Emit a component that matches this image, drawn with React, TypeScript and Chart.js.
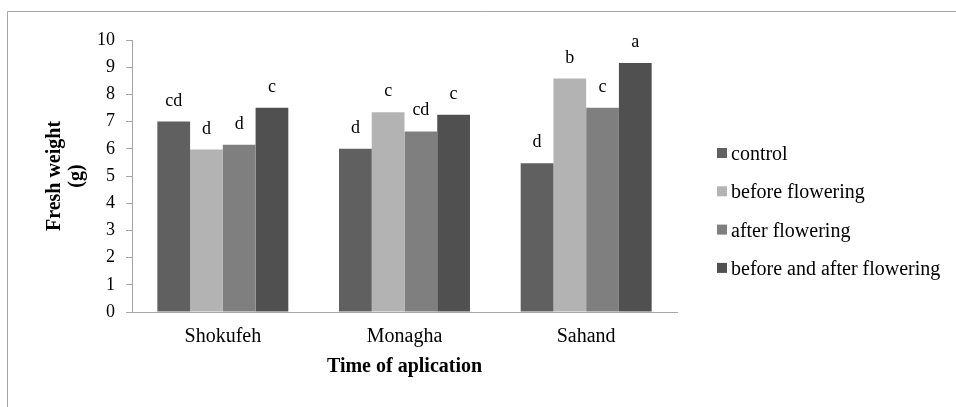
import React, { useEffect, useRef } from "react";
import { Chart, registerables } from "chart.js";

Chart.register(...registerables);

const categories = ["Shokufeh", "Monagha", "Sahand"];
const seriesNames = ["control", "before flowering", "after flowering", "before and after flowering"];
const controlValues = [7.0, 6.0, 5.47];
const beforeValues = [5.97, 7.34, 8.58];
const afterValues = [6.15, 6.64, 7.51];
const bothValues = [7.51, 7.25, 9.15];
const controlLetters = ["cd", "d", "d"];
const beforeLetters = ["d", "c", "b"];
const afterLetters = ["d", "cd", "c"];
const bothLetters = ["c", "c", "a"];
const yTicks = [0, 1, 2, 3, 4, 5, 6, 7, 8, 9, 10];
const colors = ["#606060", "#b3b3b3", "#7f7f7f", "#505050"];

const SERIF = '"Liberation Serif", "Times New Roman", serif';

export default function App() {
  const ref = useRef<HTMLCanvasElement | null>(null);

  useEffect(() => {
    const canvas = ref.current;
    if (!canvas) return;
    const values = [controlValues, beforeValues, afterValues, bothValues];
    const letters = [controlLetters, beforeLetters, afterLetters, bothLetters];

    const framePlugin = {
      id: "frame",
      beforeDraw(chart: any) {
        const ctx = chart.ctx;
        ctx.save();
        ctx.strokeStyle = "#a6a6a6";
        ctx.lineWidth = 1;
        ctx.beginPath();
        ctx.moveTo(7.5, chart.height);
        ctx.lineTo(7.5, 11.5);
        ctx.lineTo(chart.width, 11.5);
        ctx.stroke();
        ctx.restore();
      },
    };

    const lettersPlugin = {
      id: "letters",
      afterDatasetsDraw(chart: any) {
        const ctx = chart.ctx;
        ctx.save();
        ctx.font = `18px ${SERIF}`;
        ctx.fillStyle = "#000";
        ctx.textAlign = "center";
        ctx.textBaseline = "alphabetic";
        chart.data.datasets.forEach((ds: any, di: number) => {
          const meta = chart.getDatasetMeta(di);
          meta.data.forEach((bar: any, i: number) => {
            ctx.fillText(letters[di][i], bar.x, bar.y - 16);
          });
        });
        ctx.restore();
      },
    };

    const legendPlugin = {
      id: "customLegend",
      afterDraw(chart: any) {
        const ctx = chart.ctx;
        ctx.save();
        ctx.font = `20px ${SERIF}`;
        ctx.textAlign = "left";
        ctx.textBaseline = "alphabetic";
        chart.data.datasets.forEach((ds: any, di: number) => {
          const cy = 153 + di * 38.3;
          ctx.fillStyle = ds.backgroundColor;
          ctx.fillRect(717, cy - 5, 10, 10);
          ctx.fillStyle = "#000";
          ctx.fillText(ds.label, 731, cy + 7);
        });
        ctx.restore();
      },
    };

    const chart = new Chart(canvas, {
      type: "bar",
      data: {
        labels: categories,
        datasets: seriesNames.map((name, i) => ({
          label: name,
          data: values[i],
          backgroundColor: colors[i],
          borderWidth: 0,
          categoryPercentage: 0.721,
          barPercentage: 1,
        })),
      },
      options: {
        responsive: false,
        animation: false,
        layout: { padding: { left: 0, top: 40, right: 279, bottom: 0 } },
        plugins: {
          legend: { display: false },
          tooltip: { enabled: false },
        },
        scales: {
          x: {
            grid: { display: false, drawTicks: false },
            border: { display: true, color: "#a6a6a6", width: 1 },
            ticks: { font: { family: SERIF, size: 20 }, color: "#000", padding: 13 },
            title: {
              display: true,
              text: "Time of aplication",
              font: { family: SERIF, size: 20, weight: "bold", lineHeight: 1.1 },
              color: "#000",
              padding: { top: 0, bottom: 29 },
            },
            afterFit: (scale: any) => {
              scale.height = 95;
            },
          },
          y: {
            min: 0,
            max: 10,
            afterBuildTicks: (scale: any) => {
              scale.ticks = yTicks.map((v) => ({ value: v }));
            },
            grid: { display: true, drawOnChartArea: false, drawTicks: true, tickLength: 6, color: "#a6a6a6" },
            border: { display: true, color: "#a6a6a6", width: 1 },
            ticks: { font: { family: SERIF, size: 18 }, color: "#000", padding: 11 },
            title: {
              display: true,
              text: ["Fresh weight", "(g)"],
              font: { family: SERIF, size: 20, weight: "bold", lineHeight: 1.1 },
              color: "#000",
              padding: { top: 44, bottom: 0 },
            },
            afterFit: (scale: any) => {
              scale.width = 132;
            },
          },
        },
      },
      plugins: [framePlugin, lettersPlugin, legendPlugin],
    });

    return () => chart.destroy();
  }, []);

  return (
    <div style={{ position: "absolute", left: 0, top: 0, width: 956, height: 407, background: "#fff" }}>
      <canvas ref={ref} width={956} height={407} style={{ display: "block" }} />
    </div>
  );
}
